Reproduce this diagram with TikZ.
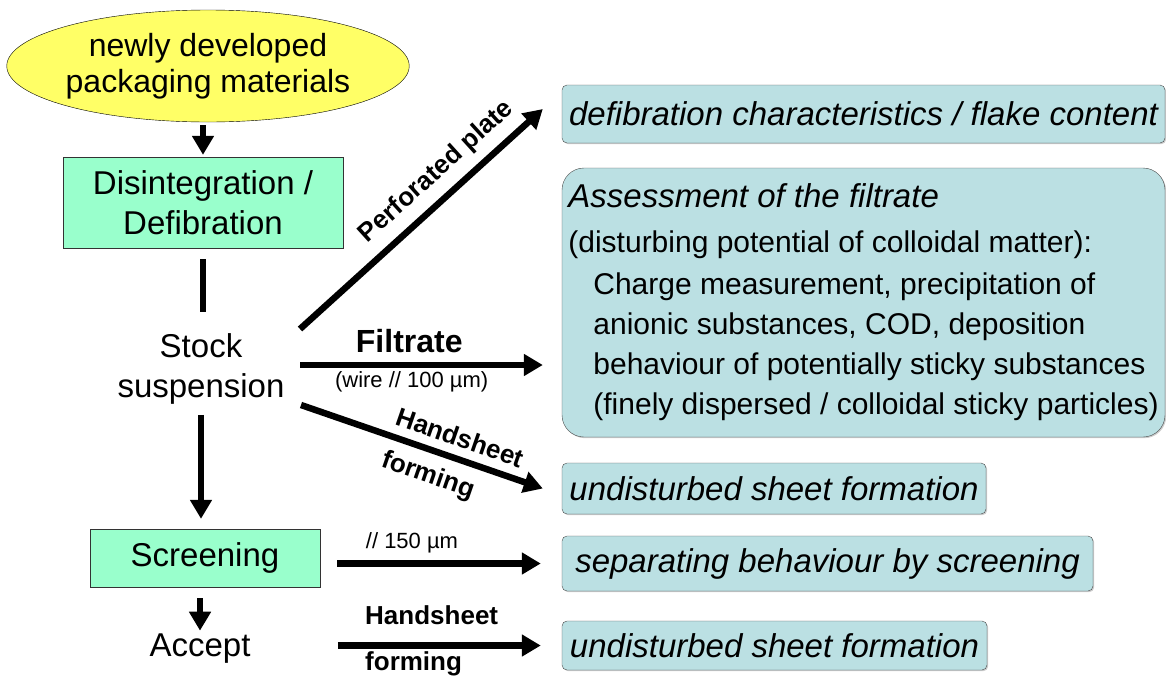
\documentclass[tikz,border=0pt]{standalone}
\usepackage{fontspec}
\setmainfont{Liberation Sans}
\usetikzlibrary{shapes.geometric,arrows.meta,calc,shadows}

\definecolor{sourceyellow}{HTML}{FFFF66}
\definecolor{processgreen}{HTML}{99FFCC}
\definecolor{resultblue}{HTML}{BBE0E3}

\begin{document}
\begin{tikzpicture}[
        x=1pt, y=-1pt,
        source/.style={ellipse, draw, thin, fill=sourceyellow, inner sep=0pt, minimum width=402pt, minimum height=112pt, align=center, font=\fontsize{32}{36}\selectfont},
        process/.style={rectangle, draw=black!80, thin, fill=processgreen, align=center, drop shadow={shadow xshift=1.2pt, shadow yshift=-1.2pt, fill=black!40}, font=\fontsize{33}{40}\selectfont},
        stage/.style={align=center, font=\fontsize{33}{40}\selectfont},
        result/.style={rectangle, draw=black!70, thin, fill=resultblue, rounded corners=5pt, drop shadow={shadow xshift=1.2pt, shadow yshift=-1.2pt, fill=black!40}, font=\fontsize{33}{40}\selectfont\itshape},
        flow_arrow/.style={-{Triangle[length=19pt,width=21pt]}, line width=6.5pt},
        path_label/.style={font=\fontsize{26}{28}\selectfont\bfseries, sloped},
        note_label/.style={font=\fontsize{22}{24}\selectfont}
    ]
        \useasboundingbox (0,0) rectangle (1166,675);

        % Left column: material route
        \node[source] (newmat) at (208,66) {newly developed\\packaging materials};
        \node[process, minimum width=280pt, minimum height=91pt] (defib) at (203,202.5) {Disintegration /\\Defibration};
        \node[stage] (stock) at (201,369) {Stock\\suspension};
        \node[process, minimum width=230pt, minimum height=58pt] (screen) at (205,558) {Screening};
        \node[stage] (accept) at (200,649) {Accept};

        \draw[flow_arrow, shorten <=3pt, shorten >=2pt] (newmat.south -| defib.north) -- (defib.north);
        \draw[line width=6.5pt, shorten <=11pt, shorten >=18pt] (defib.south) -- (defib.south |- stock.north);
        \draw[flow_arrow, shorten <=7pt, shorten >=10pt] (stock.south) -- (stock.south |- screen.north);
        \draw[flow_arrow, shorten <=11pt] (screen.south -| accept.north) -- (accept.north);

        % Right column: assessments
        \node[result, minimum width=603pt, minimum height=58pt] (flakes) at (863.5,114) {defibration characteristics / flake content};
        \node[result, rounded corners=22pt, minimum width=603pt, minimum height=269pt, align=left, font=\fontsize{30}{40}\selectfont] (filtrate) at (863.5,302.5)
            {{\itshape\fontsize{33}{40}\selectfont Assessment of the filtrate}\\[5pt]
             (disturbing potential of colloidal matter):\\[2pt]
             \hspace*{25pt}Charge measurement, precipitation of\\
             \hspace*{25pt}anionic substances, COD, deposition\\
             \hspace*{25pt}behaviour of potentially sticky substances\\
             \hspace*{25pt}(finely dispersed / colloidal sticky particles)};
        \node[result, minimum width=424pt, minimum height=51pt] (sheet1) at (774,488.5) {undisturbed sheet formation};
        \node[result, minimum width=531pt, minimum height=55pt] (separate) at (827.5,563.5) {separating behaviour by screening};
        \node[result, minimum width=425pt, minimum height=49pt] (sheet2) at (774.5,645.5) {undisturbed sheet formation};

        % Connections from stock suspension
        \draw[flow_arrow] ($(stock.east)+(12,-40)$) -- ($(flakes.west)+(-19,-5)$)
            node[path_label, above=6pt, pos=0.63] {Perforated plate};
        \draw[flow_arrow] ($(stock.east)+(12,-4)$) -- ($(filtrate.west)+(-19,62.5)$)
            node[above=6pt, pos=0.45, font=\fontsize{32}{34}\selectfont\bfseries] {Filtrate}
            node[note_label, below, pos=0.46] {(wire // 100 µm)};
        \draw[flow_arrow] ($(stock.east)+(13,36)$) -- ($(sheet1.west)+(-19,0)$)
            node[path_label, above=5pt, pos=0.63] {Handsheet}
            node[path_label, below=7pt, pos=0.56] {forming};

        % Connections from screening and accept
        \draw[flow_arrow, shorten <=17pt, shorten >=21pt] (screen.east |- separate.west) -- (separate.west)
            node[note_label, above=4pt, pos=0.38] {// 150 µm};
        \draw[flow_arrow, shorten <=84pt, shorten >=21pt] (accept.east |- sheet2.west) -- (sheet2.west)
            node[path_label, anchor=south west, yshift=14pt, pos=0.34] {Handsheet}
            node[path_label, anchor=north west, pos=0.34] {forming};
\end{tikzpicture}
\end{document}
